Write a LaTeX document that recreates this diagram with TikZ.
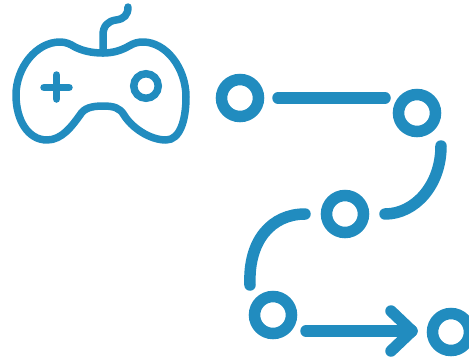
\documentclass[tikz,border=0pt]{standalone}
\usetikzlibrary{calc}
\definecolor{gblue}{HTML}{218CBF}
\tikzset{
  px/.style={x=1pt,y=-1pt},
  stop/.style={circle,draw=gblue,line width=11.5pt,minimum size=37pt,inner sep=0pt,outer sep=0pt},
  link/.style={draw=gblue,line width=11.5pt,line cap=round,line join=round},
  pad/.style={draw=gblue,line width=7.5pt,line cap=round,line join=round}
}
\begin{document}
\begin{tikzpicture}[px]
\useasboundingbox (0,0) rectangle (469,360);
% controller
\draw[pad] (103,53)
  .. controls (92,53) and (83,51) .. (75,47)
  .. controls (70,44) and (66,42) .. (60,42)
  .. controls (36,42) and (16,68) .. (16,95)
  .. controls (16,120) and (28,140) .. (47,140)
  .. controls (62,140) and (72,126) .. (80,115)
  .. controls (84,108) and (92,106) .. (103,106)
  .. controls (114,106) and (120,108) .. (124,115)
  .. controls (132,128) and (150,140) .. (166,140)
  .. controls (180,140) and (186,120) .. (186,97)
  .. controls (186,68) and (166,42) .. (143,42)
  .. controls (138,42) and (134,43) .. (129,46)
  .. controls (122,50) and (114,53) .. (103,53) -- cycle;
\draw[pad] (103,53) -- (103,35) .. controls (103,26) and (108,21) .. (116,20)
  .. controls (124,19) and (128,15) .. (128,7);
\draw[pad] (44,87.5) -- (69,87.5);
\draw[pad] (56.5,75) -- (56.5,99);
\node[circle,draw=gblue,line width=7.5pt,minimum size=24.5pt,inner sep=0pt] (btn) at (146,86) {};
% stops
\node[stop] (s1) at (240,98) {};
\node[stop] (s2) at (417,113) {};
\node[stop] (s3) at (345,214) {};
\node[stop] (s4) at (273,315) {};
\node[stop] (s5) at (451,332) {};
\coordinate (a) at ($(s1)+(38,0)$);
\coordinate (b) at ($(s1)+(145,0)$);
\coordinate (c) at ($(s2)+(24,33)$);
\coordinate (d) at ($(s3)+(40,0)$);
\coordinate (e) at ($(s3)+(-40,0)$);
\coordinate (f) at ($(s4)+(-23,-30)$);
\coordinate (g) at ($(s4)+(33,16)$);
\coordinate (h) at ($(s5)+(-39,-1)$);
\coordinate (h1) at (391,311);
\coordinate (h2) at (391,351);
\draw[link] (a) -- (b);
\draw[link] (c) .. controls (441,185) and (415,214) .. (d);
\draw[link] (e) .. controls (272,214) and (248,240) .. (f);
\draw[link] (g) -- (h);
\draw[link] (h1) -- (h) -- (h2);
\end{tikzpicture}
\end{document}
